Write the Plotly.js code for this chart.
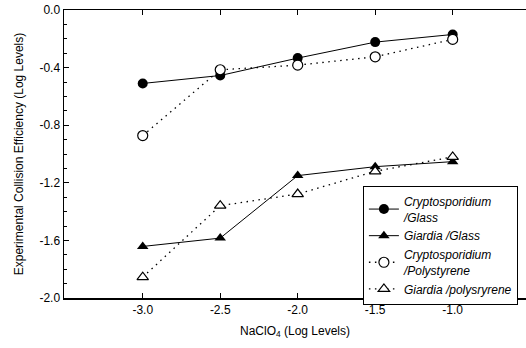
<!DOCTYPE html>
<html><head><meta charset="utf-8">
<script src="https://cdn.plot.ly/plotly-3.0.1.min.js"></script>
<style>html,body{margin:0;padding:0;background:#fff;}#c{width:526px;height:348px;}</style>
</head><body><div id="c"></div>
<script>
const naclo4 = [-3.0, -2.5, -2.0, -1.5, -1.0];
const cryptoGlass = [-0.51, -0.455, -0.334, -0.223, -0.17];
const giardiaGlass = [-1.642, -1.584, -1.150, -1.088, -1.053];
const cryptoPoly = [-0.872, -0.415, -0.383, -0.325, -0.204];
const giardiaPoly = [-1.855, -1.359, -1.278, -1.12, -1.02];
const names = ["<i>Cryptosporidium<br>/Glass</i>", "<i>Giardia /Glass</i>", "<i>Cryptosporidium<br>/Polystyrene</i>", "<i>Giardia /polysryrene</i>"];

const traces = [
  {x: naclo4, y: cryptoGlass, name: names[0], mode: 'lines+markers',
   line: {color: '#000', width: 1}, marker: {symbol: 'circle', size: 10, color: '#000'}},
  {x: naclo4, y: giardiaGlass, name: names[1], mode: 'lines+markers',
   line: {color: '#000', width: 1}, marker: {symbol: 'triangle-up', size: 10, color: '#000'}},
  {x: naclo4, y: cryptoPoly, name: names[2], mode: 'lines+markers',
   line: {color: '#000', width: 1.3, dash: '1.5px,4.5px'}, marker: {symbol: 'circle', size: 10, color: '#fff', line: {color: '#000', width: 1.2}}},
  {x: naclo4, y: giardiaPoly, name: names[3], mode: 'lines+markers',
   line: {color: '#000', width: 1.3, dash: '1.5px,4.5px'}, marker: {symbol: 'triangle-up', size: 10, color: '#fff', line: {color: '#000', width: 1.2}}}
];

const layout = {
  width: 526, height: 348,
  margin: {l: 64, r: 0, t: 10, b: 50},
  paper_bgcolor: '#fff', plot_bgcolor: '#fff',
  font: {family: 'Liberation Sans, Arial, sans-serif', size: 12, color: '#000'},
  showlegend: true,
  legend: {x: 0.647, y: 0.389, xanchor: 'left', yanchor: 'top', bgcolor: '#fff',
    bordercolor: '#000', borderwidth: 1, font: {size: 12}, itemwidth: 30, tracegroupgap: 0},
  xaxis: {range: [-3.508, -0.527], tickvals: naclo4, ticktext: ['-3.0','-2.5','-2.0','-1.5','-1.0'],
    ticks: 'inside', ticklen: 5, tickcolor: '#000', showline: true, linecolor: '#000', linewidth: 1.5,
    mirror: 'allticks', showgrid: false, zeroline: false,
    title: {text: 'NaClO<sub>4</sub> (Log Levels)', font: {size: 12}, standoff: 10}},
  yaxis: {range: [-2.0, 0.0], tickvals: [-2.0,-1.6,-1.2,-0.8,-0.4,0.0],
    ticktext: ['-2.0','-1.6','-1.2','-0.8','-0.4','0.0'],
    ticks: 'inside', ticklen: 5, tickcolor: '#000', showline: true, linecolor: '#000', linewidth: 1.5,
    minor: {dtick: 0.1, ticks: 'inside', ticklen: 3, tickcolor: '#000'},
    mirror: false, showgrid: false, zeroline: false,
    title: {text: 'Experimental Collision Efficiency (Log Levels)', font: {size: 12}, standoff: 13}}
};
Plotly.newPlot('c', traces, layout, {displayModeBar: false, staticPlot: true});
</script></body></html>
